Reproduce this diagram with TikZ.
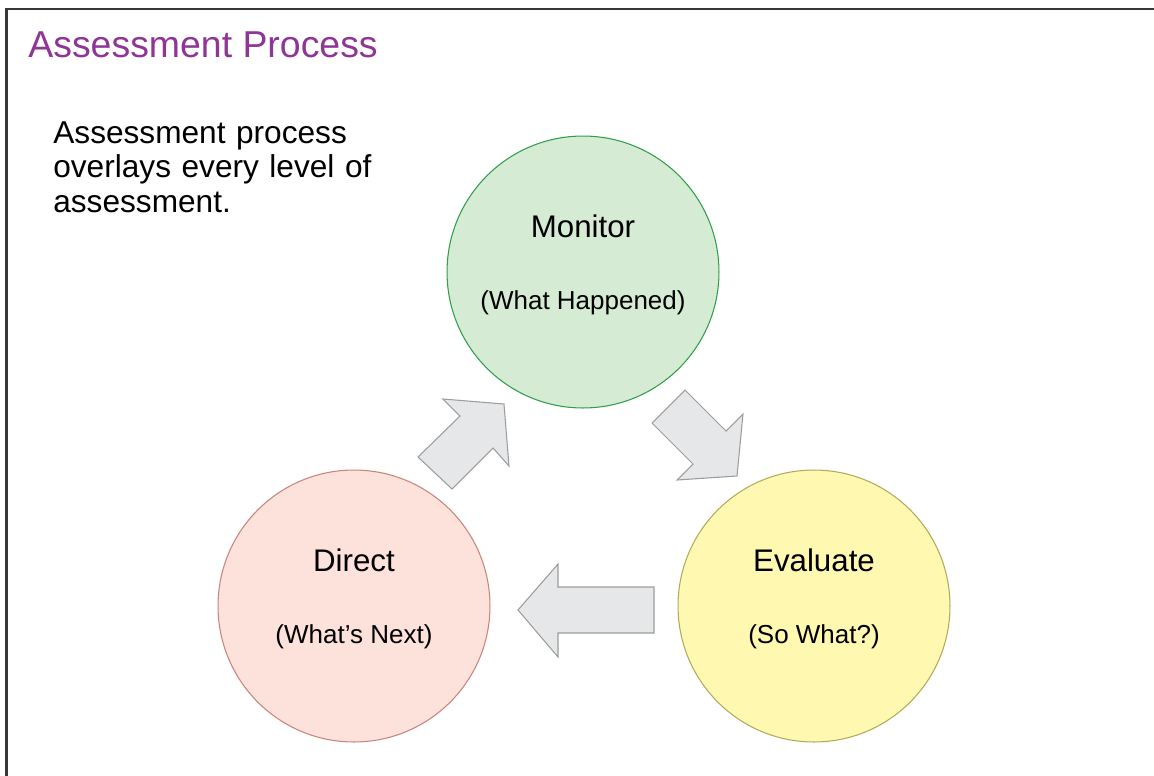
\documentclass[tikz,border=0pt]{standalone}
\usepackage{fontspec}
\setmainfont{Liberation Sans}
\usetikzlibrary{calc}

\definecolor{titlepurple}{HTML}{8E3596}
\definecolor{fillmonitor}{HTML}{D6EBD4}
\definecolor{linemonitor}{HTML}{2F9E4B}
\definecolor{filldirect}{HTML}{FCE2DA}
\definecolor{linedirect}{HTML}{C9847B}
\definecolor{fillevaluate}{HTML}{FFF8B1}
\definecolor{lineevaluate}{HTML}{B3A95C}
\definecolor{arrowfill}{HTML}{E6E7E9}
\definecolor{arrowline}{HTML}{9C9C9C}

\tikzset{
  stage/.style={circle, minimum size=5.44cm, inner sep=0, line width=0.6pt},
  stagename/.style={anchor=base, inner sep=0, font=\fontsize{17.8}{20}\selectfont},
  stagenote/.style={anchor=base, inner sep=0, font=\fontsize{14.8}{17}\selectfont},
  blockarrow/.style={fill=arrowfill, draw=arrowline, line width=0.6pt, line join=miter},
}

\begin{document}
\begin{tikzpicture}[x=0.02cm, y=-0.02cm]
  \useasboundingbox (0,0) rectangle (1154,775);
  \draw[line width=1.5pt, black!78] (6.5,780) -- (6.5,9) -- (1160,9);

  \node[anchor=base west, inner sep=0, text=titlepurple,
    font=\fontsize{21.3}{24}\selectfont] (title) at (28,57) {Assessment Process};
  \node[anchor=base west, inner sep=0, text width=7cm, align=left,
    font=\fontsize{18}{19.9}\selectfont] (intro) at (53,143)
    {Assessment process\\ overlays every level of\\ assessment.};

  \foreach \n/\x/\y/\t/\s in {monitor/583/272/Monitor/(What Happened),
      direct/354/606/Direct/(What’s Next),
      evaluate/814/606/Evaluate/(So What?)} {
    \node[stage, fill=fill\n, draw=line\n] (\n) at (\x,\y) {};
    \node[stagename] (\n-name) at ($(\n)+(0,-35)$) {\t};
    \node[stagenote] (\n-note) at ($(\n)+(0,37)$) {\s};
  }

  % direct -> monitor
  \draw[blockarrow] (418,457) -- (452,489) -- (493,448) -- (509,466)
    -- (504,404) -- (443,399) -- (460,416) -- cycle;
  % monitor -> evaluate
  \draw[blockarrow] (685,390) -- (726,431) -- (743,414) -- (737,476)
    -- (677,480) -- (693,464) -- (652,423) -- cycle;
  % evaluate -> direct
  \draw[blockarrow] (654,587) -- (558,587) -- (558,564) -- (518,610)
    -- (558,657) -- (558,633) -- (654,633) -- cycle;
\end{tikzpicture}
\end{document}
